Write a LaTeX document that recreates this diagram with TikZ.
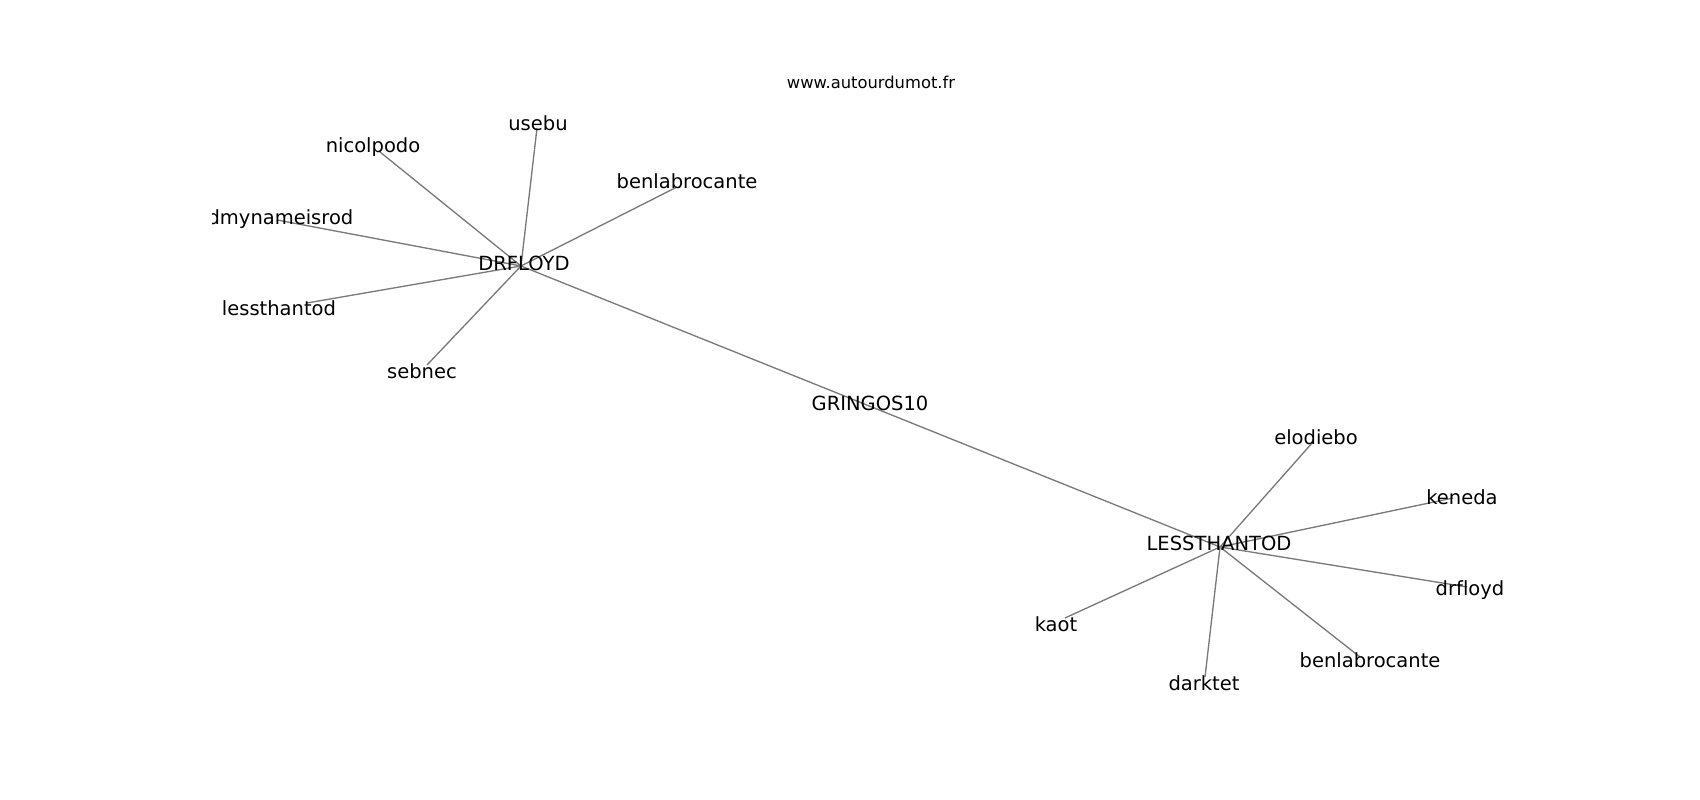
\documentclass[tikz,border=0pt]{standalone}
\usepackage{fontspec}
\setmainfont{DejaVu Sans}[Ligatures=NoCommon]
\usepackage{tikz}
\usetikzlibrary{positioning}

\begin{document}
\begin{tikzpicture}[
    lbl/.style={inner sep=0pt, text depth=0pt, font=\fontsize{5.55pt}{6.6pt}\selectfont},
    edge/.style={draw=black!52, line width=0.38pt}]
  \useasboundingbox (0,0) rectangle (17,8);

  % title
  \node[inner sep=0pt, font=\fontsize{4.65pt}{5.6pt}\selectfont] (site) at (8.71,7.18) {www.autourdumot.fr};

  %% hubs
  \coordinate (pdrfloyd) at (5.21,5.34);
  \coordinate (pgringos) at (8.705,3.935);
  \coordinate (plessthantod) at (12.20,2.53);

  % leaves of DRFLOYD
  \coordinate (pusebu) at (5.37,6.72);
  \coordinate (pbenla) at (6.77,6.13);
  \coordinate (pnicolpodo) at (3.80,6.48);
  \coordinate (pdmyname) at (2.77,5.80);
  \coordinate (plessthan) at (3.07,4.97);
  \coordinate (psebnec) at (4.27,4.35);

  % leaves of LESSTHANTOD
  \coordinate (pelodiebo) at (13.13,3.58);
  \coordinate (pkeneda) at (14.53,3.02);
  \coordinate (pdrfl) at (14.67,2.13);
  \coordinate (pbenlb) at (13.60,1.43);
  \coordinate (pdarktet) at (12.05,1.23);
  \coordinate (pkaot) at (10.65,1.82);

  %% edges
  \draw[edge] (pdrfloyd) -- (pgringos) -- (plessthantod);
  \draw[edge] (pdrfloyd) -- (pusebu);
  \draw[edge] (pdrfloyd) -- (pbenla);
  \draw[edge] (pdrfloyd) -- (pnicolpodo);
  \draw[edge] (pdrfloyd) -- (pdmyname);
  \draw[edge] (pdrfloyd) -- (plessthan);
  \draw[edge] (pdrfloyd) -- (psebnec);
  \draw[edge] (plessthantod) -- (pelodiebo);
  \draw[edge] (plessthantod) -- (pkeneda);
  \draw[edge] (plessthantod) -- (pdrfl);
  \draw[edge] (plessthantod) -- (pbenlb);
  \draw[edge] (plessthantod) -- (pdarktet);
  \draw[edge] (plessthantod) -- (pkaot);

  %% labels
  \node[lbl] (drfloyd) at (5.24,5.37) {DRFLOYD};
  \node[lbl] (gringos) at (8.70,3.97) {GRINGOS10};
  \node[lbl] (lessthantod) at (12.19,2.57) {LESSTHANTOD};

  \node[lbl] (usebu) at (5.38,6.77) {usebu};
  \node[lbl] (benla) at (6.87,6.19) {benlabrocante};
  \node[lbl] (nicolpodo) at (3.73,6.55) {nicolpodo};
  \begin{scope}
    \clip (2.125,0) rectangle (17,8);
    \node[lbl, anchor=east] (dmyname) at (3.54,5.83) {dmynameisrod};
  \end{scope}
  \node[lbl] (lessthan) at (2.79,4.92) {lessthantod};
  \node[lbl] (sebnec) at (4.22,4.29) {sebnec};

  \node[lbl] (elodiebo) at (13.16,3.63) {elodiebo};
  \node[lbl] (keneda) at (14.62,3.03) {keneda};
  \node[lbl] (drfl) at (14.70,2.12) {drfloyd};
  \node[lbl] (benlb) at (13.70,1.40) {benlabrocante};
  \node[lbl] (darktet) at (12.04,1.17) {darktet};
  \node[lbl] (kaot) at (10.56,1.76) {kaot};
\end{tikzpicture}
\end{document}
